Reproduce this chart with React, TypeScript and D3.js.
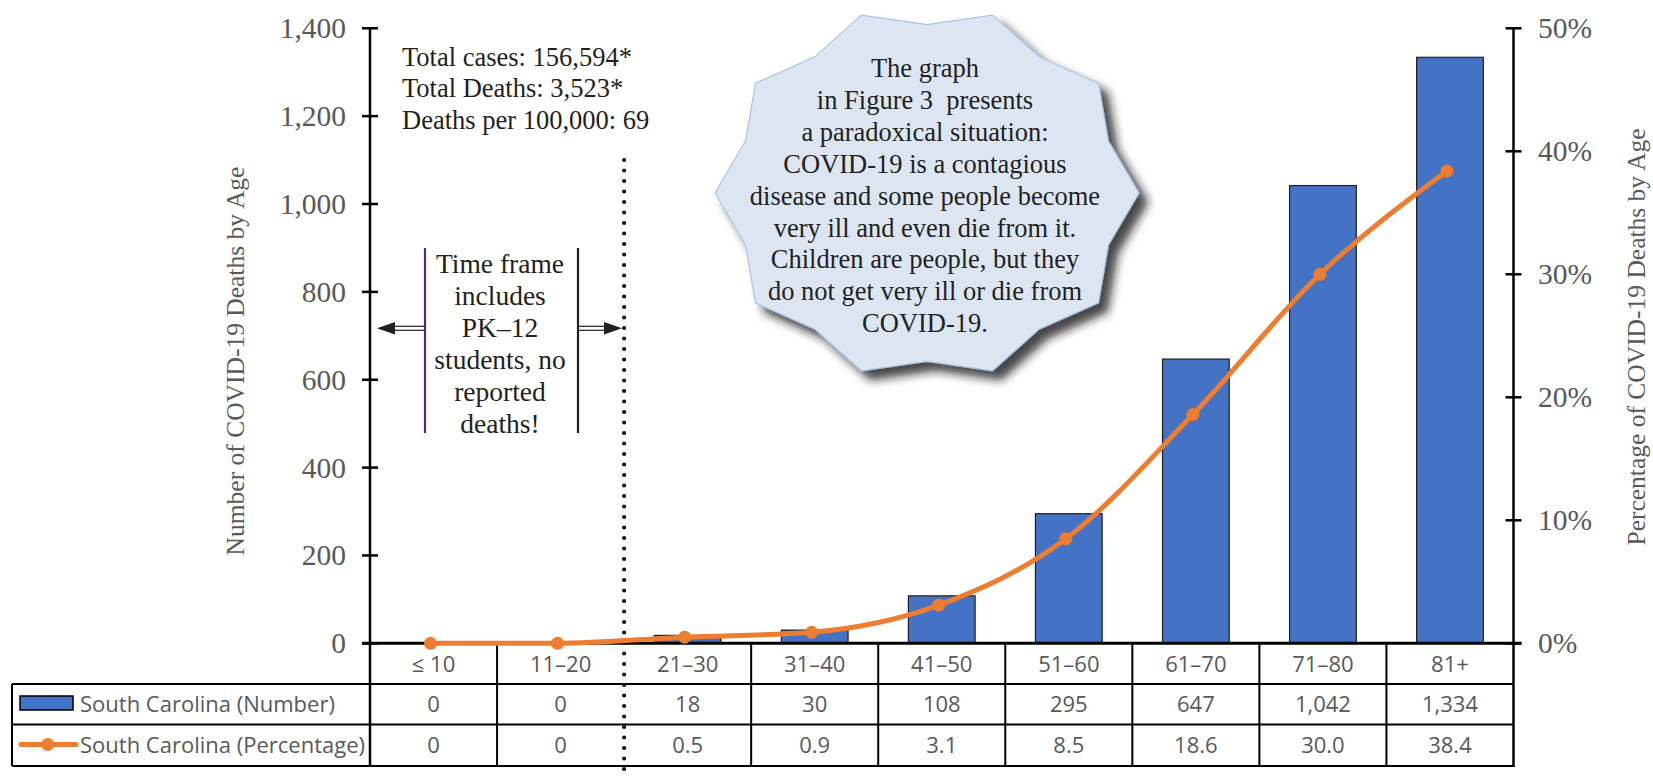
import React, { useEffect } from "react";
import * as d3 from "d3";

const categories = ["≤ 10", "11–20", "21–30", "31–40", "41–50", "51–60", "61–70", "71–80", "81+"];
const deathsNumber = [0, 0, 18, 30, 108, 295, 647, 1042, 1334];
const deathsPercent = [0, 0, 0.5, 0.9, 3.1, 8.5, 18.6, 30.0, 38.4];
const leftTicks = [0, 200, 400, 600, 800, 1000, 1200, 1400];
const rightTicks = [0, 10, 20, 30, 40, 50];
const seriesNames = ["South Carolina (Number)", "South Carolina (Percentage)"];
const summaryLines = ["Total cases: 156,594*", "Total Deaths: 3,523*", "Deaths per 100,000: 69"];
const timeFrameLines = ["Time frame", "includes", "PK–12", "students, no", "reported", "deaths!"];
const bubbleLines = [
  "The graph",
  "in Figure 3  presents",
  "a paradoxical situation:",
  "COVID-19 is a contagious",
  "disease and some people become",
  "very ill and even die from it.",
  "Children are people, but they",
  "do not get very ill or die from",
  "COVID-19.",
];
const leftTitle = "Number of COVID-19 Deaths by Age";
const rightTitle = "Percentage of COVID-19 Deaths by Age";

const W = 1653;
const H = 779;
const plotLeft = 370;
const plotRight = 1513.5;
const plotTop = 28.3;
const zeroY = 643.3;
const rowCatBottom = 684;
const rowNumBottom = 724.5;
const rowPctBottom = 766;
const tableLeft = 12;

const SERIF = "'Liberation Serif', 'Times New Roman', serif";
const SANS = "'Open Sans', 'Noto Sans', sans-serif";
const GREY = "#595959";
const BLUE = "#4472c4";
const ORANGE = "#ed7d31";
const INK = "#231f20";

export default function App() {
  useEffect(() => {
    document.body.style.margin = "0";
  }, []);

  const x = d3.scaleBand<string>().domain(categories).range([plotLeft, plotRight]).paddingInner(0).paddingOuter(0);
  const yL = d3.scaleLinear().domain([0, 1400]).range([zeroY, plotTop]);
  const yR = d3.scaleLinear().domain([0, 50]).range([zeroY, plotTop]);
  const bw = x.bandwidth();
  const barW = bw * 0.525;
  const cx = (c: string) => (x(c) as number) + bw / 2;

  const linePts = categories.map((c, i) => [cx(c) - 3, yR(deathsPercent[i])] as [number, number]);
  const lineGen = d3.line<[number, number]>().x((d) => d[0]).y((d) => d[1]).curve(d3.curveMonotoneX);
  const linePath = lineGen(linePts) || "";

  // star bubble
  const bcx = 927, bcy = 193, bRx = 212, bRy = 187, inner = 0.9;
  const starPts: [number, number][] = [];
  for (let k = 0; k < 20; k++) {
    const ang = (k * 18 * Math.PI) / 180;
    const r = k % 2 === 0 ? 1 : inner;
    starPts.push([bcx + bRx * r * Math.cos(ang), bcy - bRy * r * Math.sin(ang)]);
  }
  const starPath = d3.line()(starPts) + "Z";

  const fmtNum = d3.format(",");
  const fmtPct = (v: number) => (v === 0 ? "0" : v.toFixed(1));

  const boundaries = d3.range(categories.length + 1).map((i) => plotLeft + i * bw);
  const dottedX = boundaries[2];

  const rowNumY = (rowCatBottom + rowNumBottom) / 2;
  const rowPctY = (rowNumBottom + rowPctBottom) / 2;
  const rowCatY = (zeroY + rowCatBottom) / 2;

  return (
    <svg width={W} height={H} viewBox={`0 0 ${W} ${H}`} style={{ display: "block", position: "absolute", left: 0, top: 0, background: "#fff" }}>
      <defs>
        <filter id="shadow" x="-20%" y="-20%" width="150%" height="150%">
          <feDropShadow dx="9" dy="9" stdDeviation="5" floodColor="#1a1a1a" floodOpacity="0.8" />
        </filter>
      </defs>

      {/* bars */}
      {categories.map((c, i) => (
        <rect
          key={"bar" + c}
          x={cx(c) - barW / 2}
          y={yL(deathsNumber[i])}
          width={barW}
          height={zeroY - yL(deathsNumber[i])}
          fill={BLUE}
          stroke="#1f1f1f"
          strokeWidth={1.2}
        />
      ))}

      {/* bubble */}
      <path d={starPath} fill="#dce6f2" stroke="#a8c6e4" strokeWidth={1.2} filter="url(#shadow)" />
      {bubbleLines.map((t, i) => (
        <text key={"b" + i} x={925} y={68 + i * 31.9 + 9} textAnchor="middle" fontFamily={SERIF} fontSize={26.5} fill={INK} style={{ whiteSpace: "pre" }}>
          {t}
        </text>
      ))}

      {/* summary text */}
      {summaryLines.map((t, i) => (
        <text key={"s" + i} x={402} y={56.7 + i * 31.7 + 9} fontFamily={SERIF} fontSize={26.5} fill={INK}>
          {t}
        </text>
      ))}

      {/* time frame box */}
      <line x1={425} x2={425} y1={248} y2={433} stroke="#4b2d7f" strokeWidth={2.2} />
      <line x1={578} x2={578} y1={248} y2={433} stroke="#231f20" strokeWidth={2.2} />
      {/* left arrow */}
      <line x1={394} x2={425} y1={326.3} y2={326.3} stroke={INK} strokeWidth={1.2} />
      <line x1={394} x2={425} y1={330.3} y2={330.3} stroke={INK} strokeWidth={1.2} />
      <path d="M377,328.3 L395,322 L395,334.6 Z" fill={INK} />
      {/* right arrow */}
      <line x1={578} x2={605} y1={326.3} y2={326.3} stroke={INK} strokeWidth={1.2} />
      <line x1={578} x2={605} y1={330.3} y2={330.3} stroke={INK} strokeWidth={1.2} />
      <path d="M622,328.3 L604,322 L604,334.6 Z" fill={INK} />
      {timeFrameLines.map((t, i) => (
        <text key={"t" + i} x={500} y={263.5 + i * 32 + 9} textAnchor="middle" fontFamily={SERIF} fontSize={27.5} fill={INK}>
          {t}
        </text>
      ))}

      {/* table lines */}
      {boundaries.map((bx, i) =>
        i === 0 || i === 2 || i === categories.length ? null : (
          <line key={"v" + i} x1={bx} x2={bx} y1={zeroY} y2={rowPctBottom} stroke="#000" strokeWidth={2} />
        )
      )}
      <line x1={tableLeft} x2={plotRight} y1={rowCatBottom} y2={rowCatBottom} stroke="#000" strokeWidth={2} />
      <line x1={tableLeft} x2={plotRight} y1={rowNumBottom} y2={rowNumBottom} stroke="#000" strokeWidth={2} />
      <line x1={tableLeft} x2={plotRight + 1} y1={rowPctBottom} y2={rowPctBottom} stroke="#000" strokeWidth={2.2} />
      <line x1={tableLeft} x2={tableLeft} y1={rowCatBottom} y2={rowPctBottom} stroke="#000" strokeWidth={2} />

      {/* axes */}
      <line x1={plotLeft} x2={plotLeft} y1={plotTop} y2={rowPctBottom} stroke="#000" strokeWidth={2.5} />
      <line x1={plotRight} x2={plotRight} y1={plotTop} y2={rowPctBottom + 1} stroke="#000" strokeWidth={2.5} />
      <line x1={plotLeft - 8} x2={plotRight + 8} y1={zeroY} y2={zeroY} stroke="#000" strokeWidth={3} />
      {leftTicks.map((t) => (
        <g key={"lt" + t}>
          <line x1={plotLeft - 8} x2={plotLeft + 8} y1={yL(t)} y2={yL(t)} stroke="#000" strokeWidth={2.5} />
          <text x={346} y={yL(t) + 10} textAnchor="end" fontFamily={SERIF} fontSize={29.5} fill={GREY}>
            {fmtNum(t)}
          </text>
        </g>
      ))}
      {rightTicks.map((t) => (
        <g key={"rt" + t}>
          <line x1={plotRight - 8} x2={plotRight + 8} y1={yR(t)} y2={yR(t)} stroke="#000" strokeWidth={2.5} />
          <text x={1538} y={yR(t) + 10} textAnchor="start" fontFamily={SERIF} fontSize={29.5} fill={GREY}>
            {t + "%"}
          </text>
        </g>
      ))}

      {/* axis titles */}
      <text transform={`translate(244,361) rotate(-90)`} textAnchor="middle" fontFamily={SERIF} fontSize={25.5} fill={GREY}>
        {leftTitle}
      </text>
      <text transform={`translate(1645,337) rotate(-90)`} textAnchor="middle" fontFamily={SERIF} fontSize={25.5} fill={GREY}>
        {rightTitle}
      </text>

      {/* dotted divider */}
      <line x1={dottedX} x2={dottedX} y1={160} y2={H} stroke="#111" strokeWidth={4.2} strokeLinecap="round" strokeDasharray="0 10.5" />

      {/* percentage line */}
      <path d={linePath} fill="none" stroke={ORANGE} strokeWidth={5} strokeLinejoin="round" strokeLinecap="round" />
      {linePts.map((p, i) => (
        <circle key={"pt" + i} cx={p[0]} cy={p[1]} r={6.5} fill={ORANGE} />
      ))}

      {/* table text */}
      {categories.map((c, i) => (
        <g key={"tt" + c}>
          <text x={cx(c)} y={rowCatY + 8} textAnchor="middle" fontFamily={SANS} fontSize={22} fill={GREY}>
            {c}
          </text>
          <text x={cx(c)} y={rowNumY + 8} textAnchor="middle" fontFamily={SANS} fontSize={22} fill={GREY}>
            {fmtNum(deathsNumber[i])}
          </text>
          <text x={cx(c)} y={rowPctY + 8} textAnchor="middle" fontFamily={SANS} fontSize={22} fill={GREY}>
            {fmtPct(deathsPercent[i])}
          </text>
        </g>
      ))}

      {/* legend keys */}
      <rect x={20} y={696} width={53} height={14} fill={BLUE} stroke="#000" strokeWidth={1.5} />
      <text x={80} y={rowNumY + 8} fontFamily={SANS} fontSize={22} fill={GREY}>
        {seriesNames[0]}
      </text>
      <line x1={21} x2={76} y1={744.5} y2={744.5} stroke={ORANGE} strokeWidth={5} strokeLinecap="round" />
      <circle cx={47.7} cy={744.5} r={6.5} fill={ORANGE} />
      <text x={80} y={rowPctY + 8} fontFamily={SANS} fontSize={22} fill={GREY}>
        {seriesNames[1]}
      </text>
    </svg>
  );
}
